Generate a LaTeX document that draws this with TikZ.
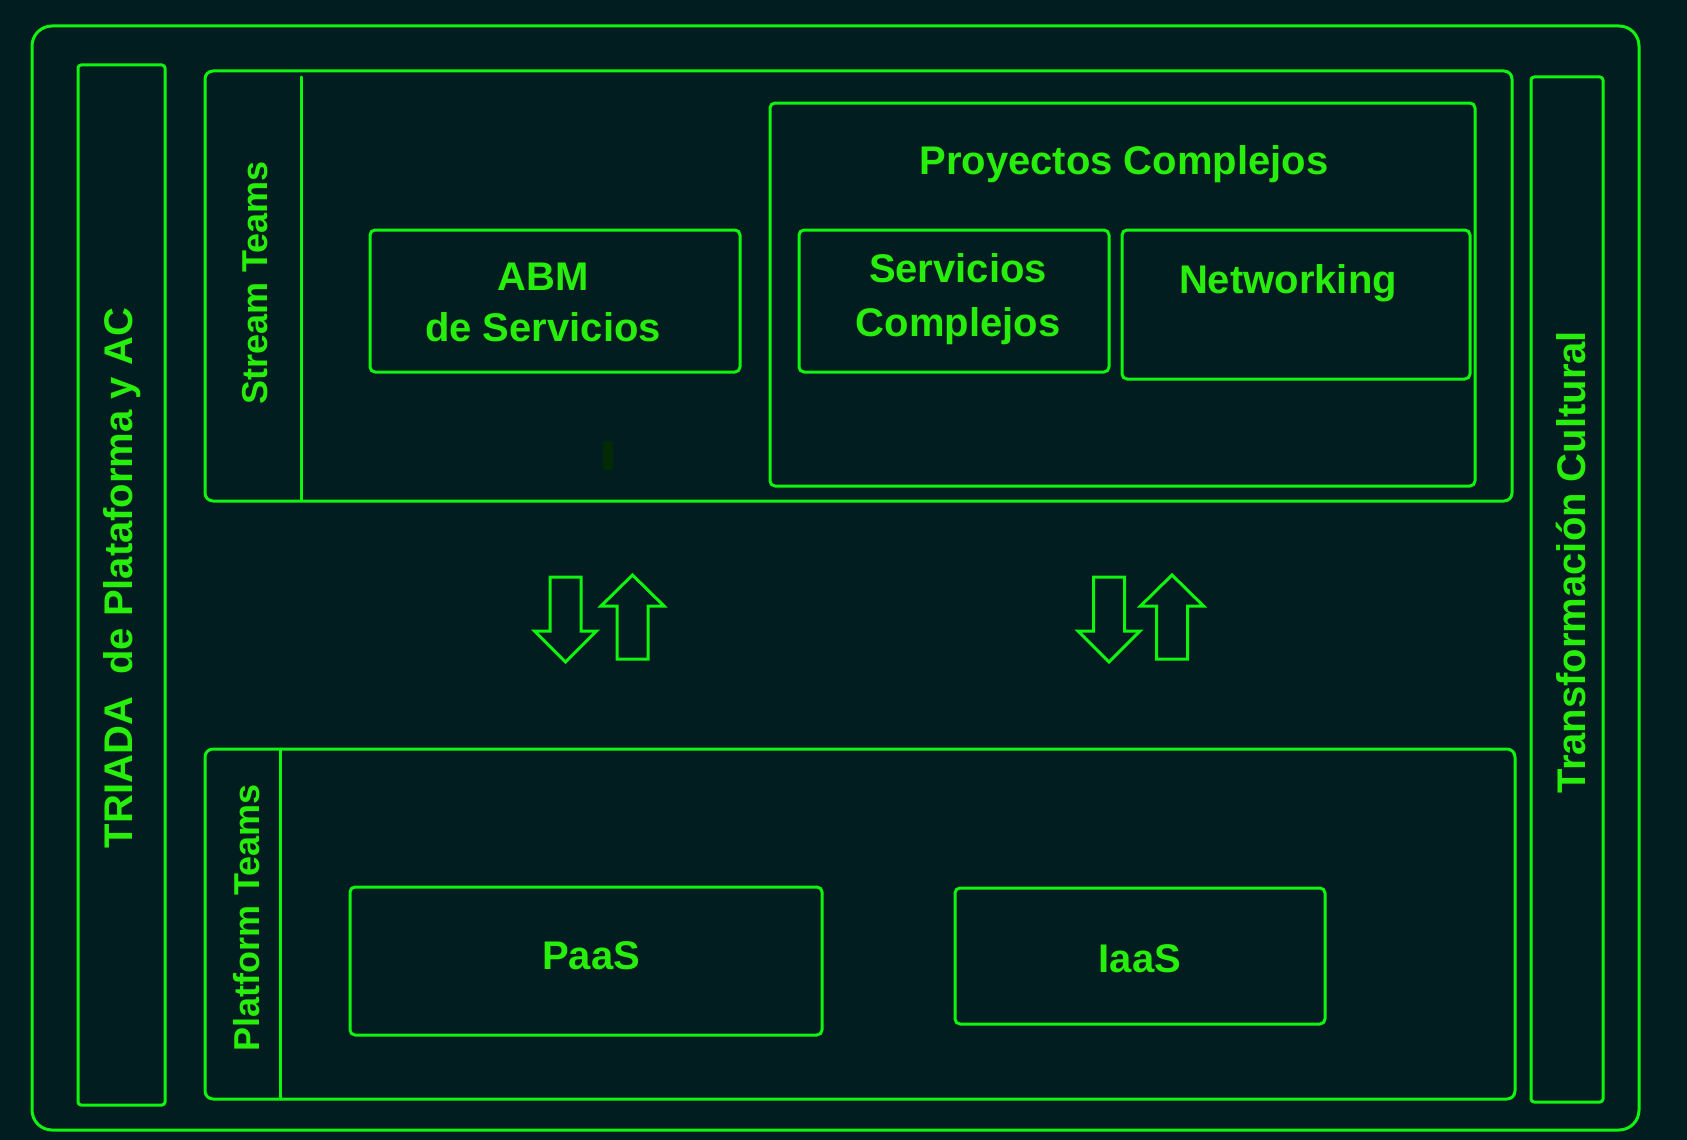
\documentclass[tikz,border=0pt]{standalone}
\usepackage{fontspec}
\setmainfont{Liberation Sans}
\usetikzlibrary{positioning}
\definecolor{bgteal}{RGB}{1,29,32}
\definecolor{neon}{RGB}{16,245,16}
\definecolor{neontext}{RGB}{40,238,12}
\definecolor{darkmark}{RGB}{2,42,4}

\begin{document}
\begin{tikzpicture}[x=1pt,y=-1pt,line cap=round,line join=round,
  frame/.style={draw=neon,line width=3pt,rounded corners=5pt,inner sep=0pt},
  lbl/.style={text=neontext,font=\fontsize{40}{52}\selectfont\bfseries,align=center,inner sep=0pt},
  sidelbl/.style={text=neontext,font=\fontsize{36}{42}\selectfont\bfseries,inner sep=0pt,rotate=90},
  arrowline/.style={draw=neon,line width=3pt,line join=miter}]
\fill[bgteal] (0,0) rectangle (1687,1140);
\path[use as bounding box] (0,0) rectangle (1687,1140);
% outer frame and side bands
\node[frame,rounded corners=20pt,minimum width=1607,minimum height=1104] (outer) at (835.5,578) {};
\node[frame,rounded corners=3pt,minimum width=87,minimum height=1040] (triada) at (121.5,585) {};
\node[frame,rounded corners=3pt,minimum width=72,minimum height=1025] (cultura) at (1567,589.5) {};
\node[lbl,rotate=90] (triadaTxt) at (122,578) {TRIADA~ de Plataforma y AC};
\node[lbl,rotate=90] (culturaTxt) at (1571,562) {Transformación Cultural};
% stream teams
\node[frame,rounded corners=8pt,minimum width=1307,minimum height=430] (stream) at (858.5,286) {};
\draw[draw=neon,line width=3pt] (301,77) -- (301,501);
\node[sidelbl] (streamTxt) at (255,283) {Stream Teams};
\node[frame,minimum width=370,minimum height=142] (abm) at (555,301) {};
\node[lbl,font=\fontsize{40}{51}\selectfont\bfseries] (abmTxt) at (543,302) {ABM\\de Servicios};
\node[frame,minimum width=705,minimum height=383] (proyectos) at (1122.5,294.5) {};
\node[lbl] (proyectosTxt) at (1124,164) {Proyectos Complejos};
\node[frame,minimum width=310,minimum height=142] (servicios) at (954,301) {};
\node[lbl,font=\fontsize{40}{54}\selectfont\bfseries] (serviciosTxt) at (958,299) {Servicios\\Complejos};
\node[frame,minimum width=348,minimum height=149] (networking) at (1296,304.5) {};
\node[lbl] (networkingTxt) at (1288,283) {Networking};
\fill[darkmark] (603,441) rectangle (613,470);
% arrows between the layers
\foreach \d/\u in {565.5/632.5,1109/1172}{
  \draw[arrowline] (\d-15.5,577) -- (\d+15.5,577) -- (\d+15.5,631) -- (\d+31,631) -- (\d,662) -- (\d-31,631) -- (\d-15.5,631) -- cycle;
  \draw[arrowline] (\u-15.5,659) -- (\u+15.5,659) -- (\u+15.5,606) -- (\u+31.5,606) -- (\u,575) -- (\u-31.5,606) -- (\u-15.5,606) -- cycle;
}
% platform teams
\node[frame,rounded corners=8pt,minimum width=1310,minimum height=350] (platform) at (860,924) {};
\draw[draw=neon,line width=3pt] (280,749) -- (280,1099);
\node[sidelbl] (platformTxt) at (247,918) {Platform Teams};
\node[frame,minimum width=472,minimum height=148] (paas) at (586,961) {};
\node[lbl] (paasTxt) at (591,956) {PaaS};
\node[frame,minimum width=370,minimum height=136] (iaas) at (1140,956) {};
\node[lbl] (iaasTxt) at (1140,959) {IaaS};
\end{tikzpicture}
\end{document}
